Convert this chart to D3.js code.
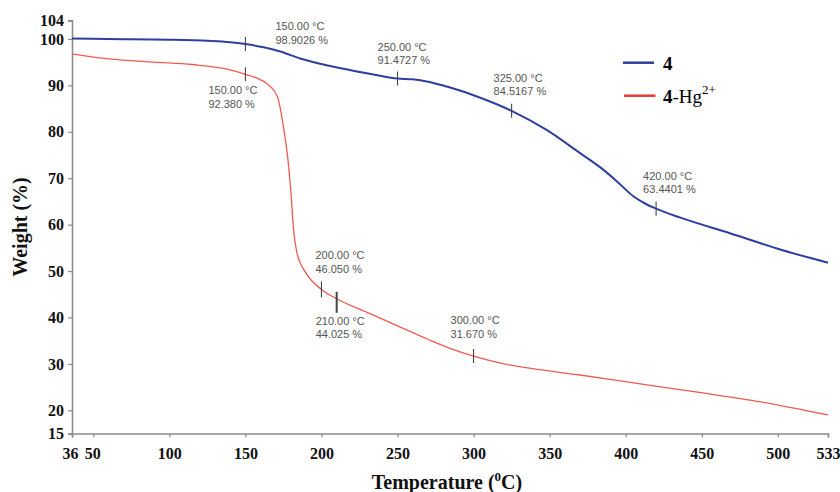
<!DOCTYPE html>
<html>
<head>
<meta charset="utf-8">
<script src="https://cdn.jsdelivr.net/npm/d3@7"></script>
<style>
  html, body { margin: 0; padding: 0; background: #fff; }
  svg { display: block; }
  .tick text { font-family: "Liberation Serif", "Times New Roman", serif; font-weight: bold; font-size: 16px; fill: #111; }
  .ann { font-family: "Liberation Sans", Arial, sans-serif; font-size: 11px; fill: #555; }
</style>
</head>
<body>
<svg id="chart" width="840" height="492"></svg>
<script>
// TGA curves: temperature (°C) vs weight (%)
const tempFree = [36, 60, 100, 125, 140, 150, 162, 173, 186, 200, 217, 235, 250, 260, 270, 283, 304, 325, 348, 370, 385, 395, 405, 413, 420, 436, 469, 502, 533];
const weightFree = [100.1, 100.0, 99.85, 99.6, 99.3, 98.9026, 98.2, 97.3, 95.8, 94.6, 93.4, 92.3, 91.4727, 91.3, 90.8, 89.7, 87.4, 84.5167, 80.4, 75.4, 71.9, 69.1, 66.1, 64.5, 63.4401, 61.5, 58.1, 54.6, 51.8];

const tempHg = [36, 60, 90, 115, 138, 150, 158, 164, 171, 175, 178, 180, 181.5, 184, 190, 200, 210, 230, 250, 270, 285, 300, 320, 340, 370, 403, 445, 489, 533];
const weightHg = [96.8, 95.7, 95.0, 94.5, 93.5, 92.38, 91.5, 90.4, 87.6, 81.1, 73.9, 66.7, 59.5, 53.8, 49.5, 46.05, 44.025, 41.1, 38.2, 35.3, 33.3, 31.67, 30.0, 28.9, 27.6, 26.0, 24.0, 21.8, 19.0];

// Marked points on each curve
const markFreeT = [150, 250, 325, 420];
const markFreeW = [98.9026, 91.4727, 84.5167, 63.4401];
const markHgT = [150, 200, 210, 300];
const markHgW = [92.38, 46.05, 44.025, 31.67];

const xTicks = [36, 50, 100, 150, 200, 250, 300, 350, 400, 450, 500, 533];
const yTicks = [15, 20, 30, 40, 50, 60, 70, 80, 90, 100, 104];

const seriesNames = ["4", "4-Hg2+"];

// Layout
const plotLeft = 72, plotRight = 828, plotTop = 20.4, plotBottom = 433.5;
const blue = "#2e3f9e", red = "#ee5a52";

const svg = d3.select("#chart");
const x = d3.scaleLinear().domain([36, 533]).range([plotLeft, plotRight]);
const y = d3.scaleLinear().domain([15, 104]).range([plotBottom, plotTop]);

// Axes
const axisColor = "#8c8c8c";
const gx = svg.append("g").attr("transform", `translate(0,${plotBottom})`)
  .call(d3.axisBottom(x).tickValues(xTicks).tickSize(4).tickPadding(7).tickFormat(d3.format("d")));
const gy = svg.append("g").attr("transform", `translate(${plotLeft},0)`)
  .call(d3.axisLeft(y).tickValues(yTicks).tickSize(4).tickPadding(4).tickFormat(d3.format("d")));
[gx, gy].forEach(g => {
  g.select(".domain").attr("stroke", axisColor).attr("stroke-width", 1.6);
  g.selectAll(".tick line").attr("stroke", axisColor).attr("stroke-width", 1.2);
});
gx.selectAll(".tick text").attr("dy", "0.9em");
// keep "36" and "50" from crowding each other
gx.selectAll(".tick text").filter(d => d === 36).attr("dx", "-2");
gx.selectAll(".tick text").filter(d => d === 50).attr("dx", "-1");

// Curves
const line = d3.line().x(d => x(d[0])).y(d => y(d[1])).curve(d3.curveMonotoneX);
svg.append("path").datum(d3.zip(tempHg, weightHg))
  .attr("d", line).attr("fill", "none").attr("stroke", red).attr("stroke-width", 1.3);
svg.append("path").datum(d3.zip(tempFree, weightFree))
  .attr("d", line).attr("fill", "none").attr("stroke", blue).attr("stroke-width", 2);

// Point markers and their readouts
const markOffsets = {
  free: [[30, -14], [-20, -28], [-18, -29], [-13, -29]],
  hg: [[-37, 20], [-6, -30], [-21, 26], [-23, -32]]
};
const markSpan = {
  free: [[-7, 7], [-7, 7], [-7, 7], [-7, 7]],
  hg: [[-7, 7], [-8, 8], [-7, 14], [-7, 7]]
};
function drawMarks(ts, ws, key) {
  ts.forEach((t, i) => {
    const px = x(t), py = y(ws[i]);
    const span = markSpan[key][i];
    svg.append("line")
      .attr("x1", px).attr("x2", px)
      .attr("y1", py + span[0]).attr("y2", py + span[1])
      .attr("stroke", "#444").attr("stroke-width", key === "hg" && t === 210 ? 2 : 1.1);
    const off = markOffsets[key][i];
    const tx = px + off[0], ty = py + off[1];
    const digits = key === "free" ? 4 : 3;
    svg.append("text").attr("class", "ann").attr("x", tx).attr("y", ty)
      .text(`${t.toFixed(2)} °C`);
    svg.append("text").attr("class", "ann").attr("x", tx).attr("y", ty + 13.5)
      .text(`${ws[i].toFixed(digits)} %`);
  });
}
drawMarks(markFreeT, markFreeW, "free");
drawMarks(markHgT, markHgW, "hg");

// Legend
const serif = "'Liberation Serif', 'Times New Roman', serif";
const lg = svg.append("g");
lg.append("line").attr("x1", 623).attr("x2", 654).attr("y1", 62.7).attr("y2", 62.7)
  .attr("stroke", blue).attr("stroke-width", 2.5);
lg.append("text").attr("x", 663).attr("y", 69.5)
  .attr("font-family", serif).attr("font-size", 19).attr("font-weight", "bold")
  .text(seriesNames[0]);
lg.append("line").attr("x1", 624).attr("x2", 655.5).attr("y1", 95.7).attr("y2", 95.7)
  .attr("stroke", "#e63b30").attr("stroke-width", 2.5);
const l2 = lg.append("text").attr("x", 663).attr("y", 102.5)
  .attr("font-family", serif).attr("font-size", 19);
l2.append("tspan").attr("font-weight", "bold").text("4");
l2.append("tspan").text("-Hg");
l2.append("tspan").attr("font-size", 13).attr("dy", -9).text("2+");

// Axis titles
svg.append("text")
  .attr("transform", `translate(27,${(plotTop + plotBottom) / 2}) rotate(-90)`)
  .attr("text-anchor", "middle")
  .attr("font-family", serif).attr("font-size", 20).attr("font-weight", "bold").attr("fill", "#111")
  .text("Weight (%)");
const xt = svg.append("text")
  .attr("x", 447).attr("y", 489)
  .attr("text-anchor", "middle")
  .attr("font-family", serif).attr("font-size", 20).attr("font-weight", "bold").attr("fill", "#111");
xt.append("tspan").text("Temperature (");
xt.append("tspan").attr("font-size", 13).attr("dy", -8).text("0");
xt.append("tspan").attr("dy", 8).text("C)");
</script>
</body>
</html>
